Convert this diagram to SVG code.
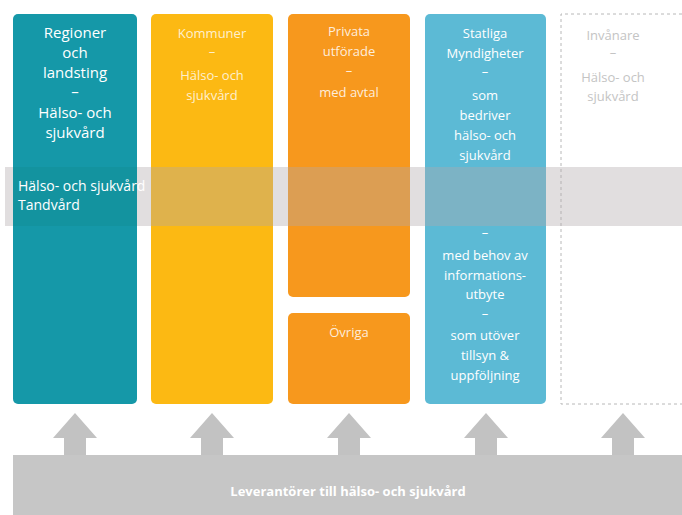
<svg xmlns="http://www.w3.org/2000/svg" width="682" height="515" viewBox="0 0 682 515">
<style>
text{font-family:"Open Sans","Noto Sans","Liberation Sans",sans-serif;text-anchor:middle;fill:#fff}
.big{font-size:15px}
.sm{font-size:13px}
.arrow{fill:#c2c2c2}
.band{fill:#b0a8ac;fill-opacity:0.38}
</style>
<rect width="682" height="515" fill="#fff"/>
<g id="regioner">
<rect x="13" y="14" width="124" height="390" rx="5" fill="#1598a8"/>
<text class="big" x="75" y="38">Regioner</text>
<text class="big" x="75" y="58">och</text>
<text class="big" x="75" y="78">landsting</text>
<text class="big" x="75" y="97">–</text>
<text class="big" x="75" y="118">Hälso- och</text>
<text class="big" x="75" y="138">sjukvård</text>
</g>
<g id="kommuner">
<rect x="151" y="14" width="122" height="390" rx="5" fill="#fcb913"/>
<text class="sm" x="212" y="38" fill-opacity="0.8">Kommuner</text>
<text class="sm" x="212" y="56" fill-opacity="0.8">–</text>
<text class="sm" x="212" y="80" fill-opacity="0.8">Hälso- och</text>
<text class="sm" x="212" y="100" fill-opacity="0.8">sjukvård</text>
</g>
<g id="privata">
<rect x="288" y="14" width="122" height="283" rx="5" fill="#f7981d"/>
<text class="sm" x="349" y="36" fill-opacity="0.85">Privata</text>
<text class="sm" x="349" y="56" fill-opacity="0.85">utförade</text>
<text class="sm" x="349" y="75" fill-opacity="0.85">–</text>
<text class="sm" x="349" y="97" fill-opacity="0.85">med avtal</text>
</g>
<g id="ovriga">
<rect x="288" y="313" width="122" height="91" rx="5" fill="#f7981d"/>
<text class="sm" x="349" y="337" fill-opacity="0.85">Övriga</text>
</g>
<g id="statliga">
<rect x="425" y="14" width="121" height="390" rx="5" fill="#5cbad5"/>
<text class="sm" x="485" y="38">Statliga</text>
<text class="sm" x="485" y="58">Myndigheter</text>
<text class="sm" x="485" y="76">–</text>
<text class="sm" x="485" y="100">som</text>
<text class="sm" x="485" y="120">bedriver</text>
<text class="sm" x="485" y="140">hälso- och</text>
<text class="sm" x="485" y="160">sjukvård</text>
<text class="sm" x="485" y="237">–</text>
<text class="sm" x="485" y="260">med behov av</text>
<text class="sm" x="485" y="280">informations-</text>
<text class="sm" x="485" y="299">utbyte</text>
<text class="sm" x="485" y="318">–</text>
<text class="sm" x="485" y="340">som utöver</text>
<text class="sm" x="485" y="360">tillsyn &amp;</text>
<text class="sm" x="485" y="380">uppföljning</text>
</g>
<g id="invanare">
<path d="M682 14 H561 V404 H682" fill="none" stroke="#b8b8b8" stroke-width="1" stroke-dasharray="3,3"/>
<text class="sm" x="613" y="40" style="fill:#c4c4c4">Invånare</text>
<text class="sm" x="613" y="57" style="fill:#c4c4c4">–</text>
<text class="sm" x="613" y="82" style="fill:#c4c4c4">Hälso- och</text>
<text class="sm" x="613" y="101" style="fill:#c4c4c4">sjukvård</text>
</g>
<g id="band-halso">
<rect class="band" x="5" y="167" width="677" height="59"/>
<rect x="13" y="167" width="124" height="59" fill="#13939f"/>
<text x="18" y="191" style="font-size:14px;text-anchor:start">Hälso- och sjukvård</text>
<text x="18" y="210" style="font-size:14px;text-anchor:start">Tandvård</text>
</g>
<g id="connectors">
<path class="arrow" d="M75 413 L97 438 L86 438 L86 456 L64 456 L64 438 L53 438 Z"/>
<path class="arrow" d="M212 413 L234 438 L223 438 L223 456 L201 456 L201 438 L190 438 Z"/>
<path class="arrow" d="M349 413 L371 438 L360 438 L360 456 L338 456 L338 438 L327 438 Z"/>
<path class="arrow" d="M486 413 L508 438 L497 438 L497 456 L475 456 L475 438 L464 438 Z"/>
<path class="arrow" d="M623 413 L645 438 L634 438 L634 456 L612 456 L612 438 L601 438 Z"/>
</g>
<g id="leverantorer">
<rect x="13" y="455" width="669" height="60" fill="#c6c6c6"/>
<text x="348" y="496" style="font-size:13px;font-weight:bold">Leverantörer till hälso- och sjukvård</text>
</g>
</svg>
